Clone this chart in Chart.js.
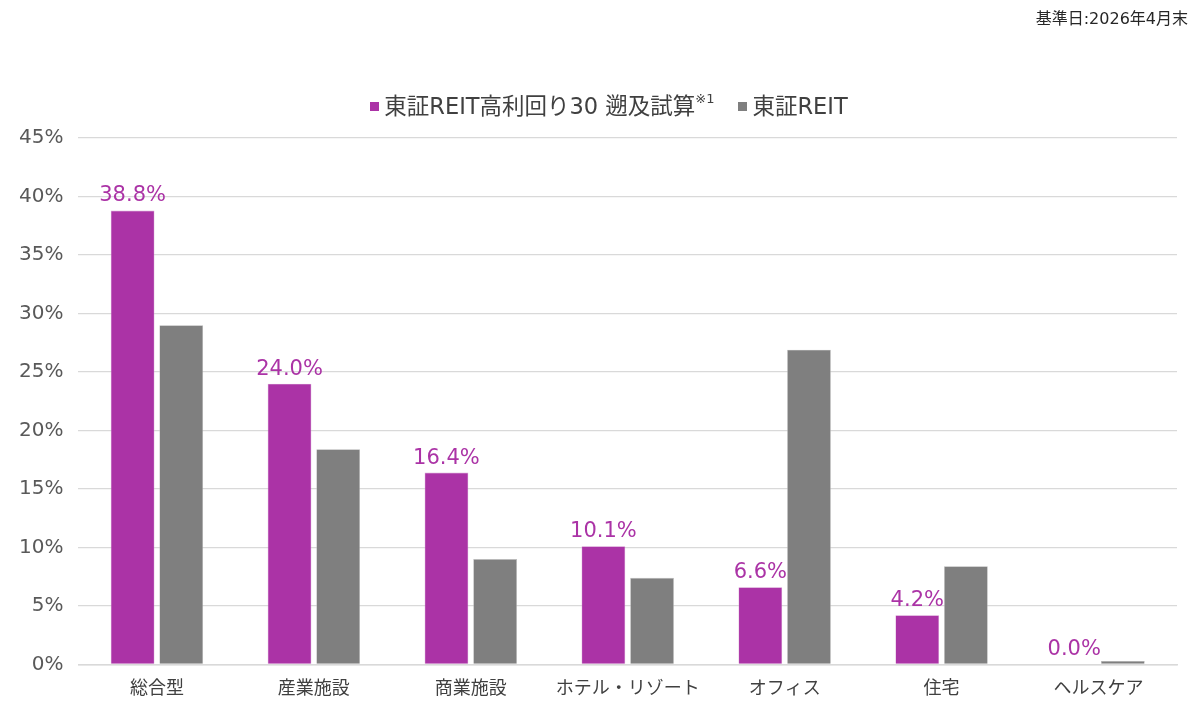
<!DOCTYPE html>
<html lang="ja">
<head>
<meta charset="utf-8">
<script src="https://cdn.jsdelivr.net/npm/chart.js@4.4.1/dist/chart.umd.min.js"></script>
<style>
  html, body { margin: 0; padding: 0; background: #fff; }
  body { width: 1200px; height: 719px; position: relative; overflow: hidden;
         font-family: "DejaVu Sans", "Noto Sans CJK JP", sans-serif; }
  #wrap { position: absolute; left: 0; top: 0; width: 1200px; height: 719px; }
  #asof { position: absolute; right: 12px; top: 5px; font-size: 16px; color: #262626; }
  #legend { position: absolute; left: 18px; right: 0; top: 88px; text-align: center;
            font-size: 22.5px; color: #404040; white-space: nowrap; }
  #legend .item { display: inline-block; margin: 0 12px; }
  #legend .box { display: inline-block; width: 9px; height: 9px; margin-right: 5px;
                 vertical-align: 3px; }
  #legend sup { font-size: 13px; vertical-align: 11px; line-height: 0; }
</style>
</head>
<body>
<div id="wrap"><canvas id="chart"></canvas></div>
<div id="asof">基準日:2026年4月末</div>
<div id="legend"></div>
<script>
// ── Data ──────────────────────────────────────────────────────────────────
const categories  = ['総合型', '産業施設', '商業施設', 'ホテル・リゾート', 'オフィス', '住宅', 'ヘルスケア'];
const highYield30 = [38.8, 24.0, 16.4, 10.1, 6.6, 4.2, 0.0];
const tseReit     = [29.0, 18.4, 9.0, 7.4, 26.9, 8.4, 0.3];
const yTicks      = [0, 5, 10, 15, 20, 25, 30, 35, 40, 45];

const seriesNames = ['東証REIT高利回り30 遡及試算', '東証REIT'];
const seriesNotes = ['※1', ''];
const colors      = ['#AB33A6', '#7F7F7F'];

const FONT = '"DejaVu Sans", "Noto Sans CJK JP", sans-serif';

// ── Value labels on the first series ──────────────────────────────────────
const valueLabels = {
    id: 'valueLabels',
    afterDatasetsDraw(chart) {
        const ctx  = chart.ctx;
        const meta = chart.getDatasetMeta(0);
        ctx.save();
        ctx.font = '21px ' + FONT;
        ctx.fillStyle = colors[0];
        ctx.textAlign = 'center';
        ctx.textBaseline = 'bottom';
        meta.data.forEach((bar, i) => {
            ctx.fillText(highYield30[i].toFixed(1) + '%', bar.x, bar.y - 4);
        });
        ctx.restore();
    }
};

new Chart(document.getElementById('chart'), {
    type: 'bar',
    data: {
        labels: categories,
        datasets: [
            { label: seriesNames[0], data: highYield30, backgroundColor: colors[0],
              borderColor: '#d9a6d6', borderWidth: 0.6 },
            { label: seriesNames[1], data: tseReit, backgroundColor: colors[1],
              borderColor: '#bfbfbf', borderWidth: 0.6 },
        ],
    },
    options: {
        responsive: true,
        maintainAspectRatio: false,
        animation: false,
        categoryPercentage: 0.62,
        barPercentage: 0.9,
        layout: { padding: { top: 138, right: 23, bottom: 5, left: 4 } },
        plugins: {
            legend:  { display: false },
            tooltip: { enabled: false },
        },
        scales: {
            x: {
                grid:   { display: false, drawTicks: false },
                border: { color: '#d9d9d9', width: 1.5 },
                ticks:  { color: '#404040', font: { size: 18, family: FONT }, padding: 14 },
            },
            y: {
                min: 0,
                max: 45,
                afterBuildTicks: (axis) => { axis.ticks = yTicks.map(v => ({ value: v })); },
                grid:   { color: '#d9d9d9', lineWidth: 1.2, drawTicks: false },
                border: { display: false },
                ticks:  { color: '#595959', font: { size: 20, family: FONT }, padding: 15,
                          callback: v => v + '%' },
            },
        },
    },
    plugins: [valueLabels],
});

// ── Legend (HTML so the note can be superscript) ──────────────────────────
document.getElementById('legend').innerHTML = seriesNames.map((name, i) =>
    `<span class="item"><span class="box" style="background:${colors[i]}"></span>${name}` +
    (seriesNotes[i] ? `<sup>${seriesNotes[i]}</sup>` : '') + `</span>`
).join('');
</script>
</body>
</html>
